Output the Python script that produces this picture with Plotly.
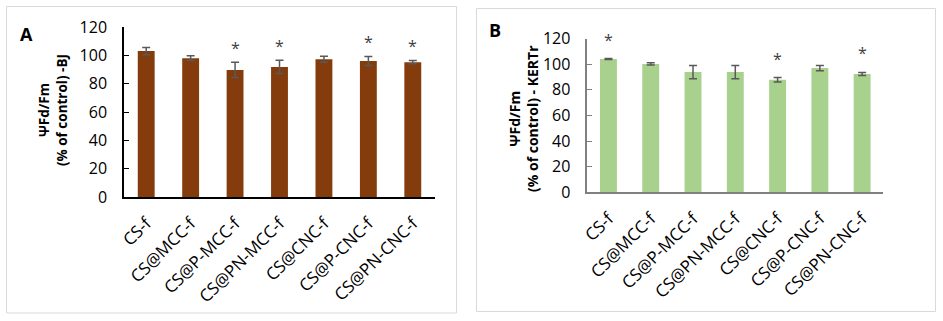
import plotly.graph_objects as go

categories = ["CS-f", "CS@MCC-f", "CS@P-MCC-f", "CS@PN-MCC-f", "CS@CNC-f", "CS@P-CNC-f", "CS@PN-CNC-f"]

bj_values = [103.0, 98.0, 89.7, 91.8, 97.3, 96.0, 95.2]
bj_errors = [2.5, 1.7, 5.4, 4.7, 2.1, 3.2, 1.2]
bj_signif = [False, False, True, True, False, True, True]

kertr_values = [104.0, 100.2, 93.8, 93.8, 87.8, 96.9, 92.3]
kertr_errors = [0.3, 0.9, 5.2, 5.2, 1.7, 2.0, 1.2]
kertr_signif = [True, False, False, False, True, False, True]

yticks = [0, 20, 40, 60, 80, 100, 120]

W, H = 943, 321
FONT = "Open Sans"

def px(x):
    return x / W

def py(y):
    return 1 - y / H

fig = go.Figure()

fig.add_trace(go.Bar(
    x=categories, y=bj_values, xaxis="x", yaxis="y",
    marker=dict(color="#843C0C", line=dict(width=0)),
    error_y=dict(type="data", array=bj_errors, color="#595959", thickness=1.5, width=4),
    width=0.38, showlegend=False, hoverinfo="x+y",
))
fig.add_trace(go.Bar(
    x=categories, y=kertr_values, xaxis="x2", yaxis="y2",
    marker=dict(color="#A9D18E", line=dict(width=0)),
    error_y=dict(type="data", array=kertr_errors, color="#595959", thickness=1.5, width=4),
    width=0.40, showlegend=False, hoverinfo="x+y",
))

annotations = []
for c, v, e, s in zip(categories, bj_values, bj_errors, bj_signif):
    if s:
        annotations.append(dict(x=c, y=v + e, xref="x", yref="y", text="*", showarrow=False,
                                yanchor="bottom", yshift=1, font=dict(family=FONT, size=16, color="#404040")))
for c, v, e, s in zip(categories, kertr_values, kertr_errors, kertr_signif):
    if s:
        annotations.append(dict(x=c, y=v + e, xref="x2", yref="y2", text="*", showarrow=False,
                                yanchor="bottom", yshift=6, font=dict(family=FONT, size=16, color="#404040")))

# panel letters
annotations.append(dict(x=px(26.5), y=py(34.5), xref="paper", yref="paper", text="<b>A</b>", showarrow=False,
                        xanchor="center", yanchor="middle", font=dict(family=FONT, size=18, color="black")))
annotations.append(dict(x=px(494.5), y=py(30), xref="paper", yref="paper", text="<b>B</b>", showarrow=False,
                        xanchor="center", yanchor="middle", font=dict(family=FONT, size=18, color="black")))
# y axis titles
annotations.append(dict(x=px(53), y=py(110), xref="paper", yref="paper",
                        text="<b>ΨFd/Fm<br>(% of control) -BJ</b>", showarrow=False, textangle=-90,
                        xanchor="center", yanchor="middle", font=dict(family=FONT, size=13.5, color="black")))
annotations.append(dict(x=px(524), y=py(119), xref="paper", yref="paper",
                        text="<b>ΨFd/Fm<br>(% of control) - KERTr</b>", showarrow=False, textangle=-90,
                        xanchor="center", yanchor="middle", font=dict(family=FONT, size=14, color="black")))

shapes = [
    dict(type="rect", xref="paper", yref="paper", x0=px(6.5), x1=px(456.5), y0=py(313), y1=py(6.5),
         line=dict(color="#D9D9D9", width=1), fillcolor="rgba(0,0,0,0)", layer="below"),
    dict(type="rect", xref="paper", yref="paper", x0=px(476.5), x1=px(935.5), y0=py(311.5), y1=py(8.5),
         line=dict(color="#D9D9D9", width=1), fillcolor="rgba(0,0,0,0)", layer="below"),
]

xtickfont = dict(family=FONT, size=17, color="black")
ytickfont = dict(family=FONT, size=16, color="black")

common_x = dict(showline=True, linewidth=1.5, ticks="", tickangle=-45, tickfont=xtickfont,
                showgrid=False, zeroline=False, fixedrange=True, automargin=False, ticklabelstandoff=8)
common_y = dict(range=[0, 120], tickvals=yticks, showline=True, linewidth=1.5, ticks="inside",
                ticklen=5, tickfont=ytickfont, showgrid=False, zeroline=False, ticklabelstandoff=12,
                fixedrange=True, automargin=False)

fig.update_layout(
    template="none",
    width=W, height=H,
    margin=dict(l=0, r=0, t=0, b=0, pad=0),
    paper_bgcolor="white", plot_bgcolor="white",
    annotations=annotations, shapes=shapes,
    xaxis=dict(domain=[px(124), px(435)], linecolor="black", anchor="y", **common_x),
    yaxis=dict(domain=[py(197), py(27)], linecolor="black", tickcolor="black", anchor="x", **common_y),
    xaxis2=dict(domain=[px(587.3), px(883.3)], linecolor="#808080", anchor="y2", **common_x),
    yaxis2=dict(domain=[py(192.3), py(38.5)], linecolor="#808080", tickcolor="#808080", anchor="x2", **common_y),
)

fig.write_html("out.html", config={"displayModeBar": False},
               post_script="document.body.style.margin='0';document.body.style.overflow='hidden';")
